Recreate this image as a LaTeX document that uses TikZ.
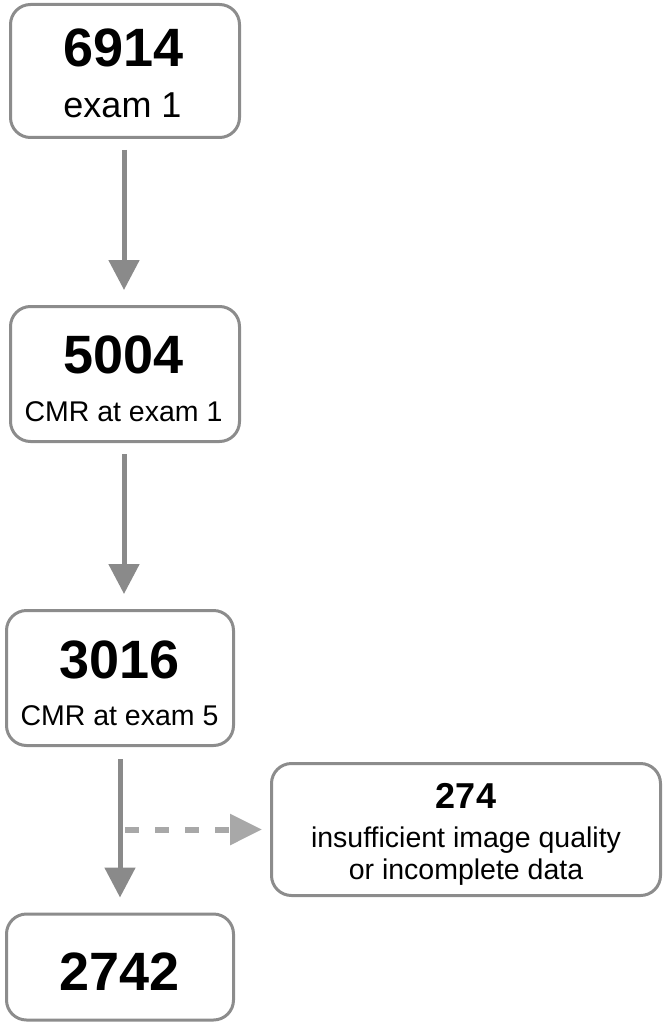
\documentclass[tikz,border=0pt]{standalone}
\usepackage{fontspec}
\setmainfont{Liberation Sans}
\usetikzlibrary{arrows.meta}
\definecolor{boxgray}{HTML}{8C8C8C}
\definecolor{arrgray}{HTML}{8A8A8A}
\definecolor{dashgray}{HTML}{A8A8A8}
\tikzset{
  box/.style={draw=boxgray, line width=3pt, rounded corners=20pt, fill=white, inner sep=0pt},
  bignum/.style={anchor=base, inner sep=0pt, font=\fontsize{54}{60}\selectfont\bfseries},
  sidenum/.style={anchor=base, inner sep=0pt, font=\fontsize{36}{40}\selectfont\bfseries},
  subtxt/.style={anchor=base, inner sep=0pt, font=\fontsize{28.5}{32}\selectfont},
  subbig/.style={anchor=base, inner sep=0pt, font=\fontsize{36}{40}\selectfont},
  arr/.style={draw=arrgray, line width=5pt, -{Triangle[width=30pt,length=30pt]}},
  dasharr/.style={draw=dashgray, line width=6pt, dash pattern=on 14pt off 16pt, -{Triangle[width=30pt,length=32pt]}}
}
\begin{document}
\begin{tikzpicture}[x=1pt,y=-1pt]
\useasboundingbox (0,0) rectangle (663,1024);
% boxes
\node[box, minimum width=229pt, minimum height=133pt] (b1) at (125,71) {};
\node[box, minimum width=229pt, minimum height=135pt] (b2) at (125,374) {};
\node[box, minimum width=227pt, minimum height=135pt] (b3) at (120,678) {};
\node[box, minimum width=227pt, minimum height=106pt] (b4) at (120,967) {};
\node[box, minimum width=389pt, minimum height=132pt] (side) at (466,829.5) {};
% texts
\node[bignum] (t1) at (123.5,67) {6914};
\node[subbig] (s1) at (122.5,118) {exam 1};
\node[bignum] (t2) at (123.5,373) {5004};
\node[subtxt] (s2) at (123.5,421) {CMR at exam 1};
\node[bignum] (t3) at (119.5,678) {3016};
\node[subtxt] (s3) at (119.5,725) {CMR at exam 5};
\node[bignum] (t4) at (119.5,990) {2742};
\node[sidenum] (t5) at (466,808) {274};
\node[subtxt] (s5a) at (466,847) {insufficient image quality};
\node[subtxt] (s5b) at (466,879) {or incomplete data};
% arrows
\draw[arr] ([xshift=-1pt,yshift=-11pt]b1.south) -- ([xshift=-1pt,yshift=15pt]b2.north);
\draw[arr] ([xshift=-1pt,yshift=-11pt]b2.south) -- ([xshift=4pt,yshift=15pt]b3.north);
\draw[arr] ([yshift=-12pt]b3.south) -- ([yshift=15pt]b4.north);
\coordinate (d0) at (125,829.5);
\draw[dasharr, shorten >=8pt] (d0) -- (side.west);
\end{tikzpicture}
\end{document}
